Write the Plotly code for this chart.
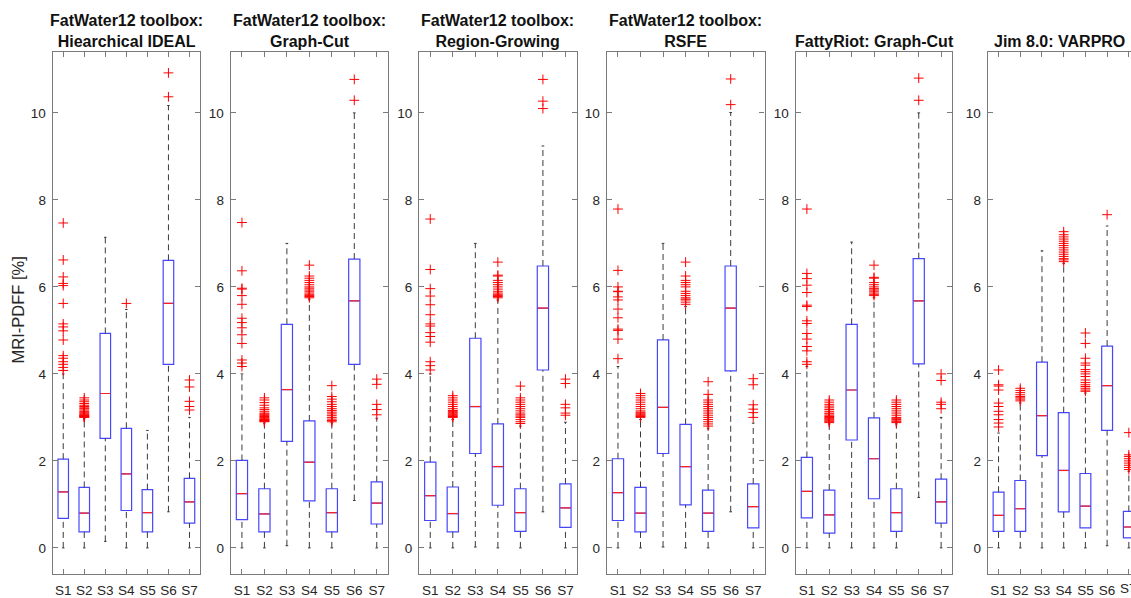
import plotly.graph_objects as go

categories = ["S1", "S2", "S3", "S4", "S5", "S6", "S7"]
panel_titles = [
    "FatWater12 toolbox:<br>Hiearchical IDEAL",
    "FatWater12 toolbox:<br>Graph-Cut",
    "FatWater12 toolbox:<br>Region-Growing",
    "FatWater12 toolbox:<br>RSFE",
    "FattyRiot: Graph-Cut",
    "Jim 8.0: VARPRO",
]
y_label = "MRI-PDFF [%]"

# ---- Panel 1: FatWater12 Hierarchical IDEAL ----
p1_q1 = [0.68, 0.37, 2.52, 0.86, 0.37, 4.22, 0.57]
p1_med = [1.29, 0.80, 3.55, 1.70, 0.81, 5.62, 1.06]
p1_q3 = [2.04, 1.39, 4.93, 2.75, 1.34, 6.61, 1.60]
p1_lo = [0, 0, 0.15, 0, 0, 0.83, 0]
p1_hi = [4.0, 2.97, 7.14, 5.48, 2.70, 10.17, 3.0]
p1_out = [
    [4.08, 4.15, 4.22, 4.28, 4.36, 4.42, 4.78, 4.99, 5.08, 5.15, 5.62, 6.03, 6.08, 6.23, 6.62, 7.47],
    [3.0, 3.01, 3.02, 3.03, 3.04, 3.05, 3.06, 3.08, 3.1, 3.12, 3.14, 3.17, 3.2, 3.22, 3.25, 3.28, 3.32, 3.36, 3.4, 3.45],
    [],
    [5.62],
    [],
    [10.37, 10.92],
    [3.17, 3.25, 3.37, 3.7, 3.86],
]

# ---- Panel 2: FatWater12 Graph-Cut ----
p2_q1 = [0.65, 0.37, 2.45, 1.08, 0.37, 4.22, 0.55]
p2_med = [1.25, 0.78, 3.64, 1.97, 0.81, 5.68, 1.03]
p2_q3 = [2.01, 1.36, 5.14, 2.92, 1.36, 6.64, 1.52]
p2_lo = [0, 0, 0.05, 0, 0, 1.09, 0]
p2_hi = [4.0, 2.87, 7.0, 5.72, 2.88, 10.0, 2.98]
p2_out = [
    [4.17, 4.25, 4.32, 4.7, 4.9, 5.06, 5.18, 5.28, 5.6, 5.8, 5.95, 5.97, 6.37, 7.48],
    [2.9, 2.91, 2.92, 2.93, 2.94, 2.95, 2.96, 2.98, 3.0, 3.02, 3.04, 3.06, 3.08, 3.1, 3.14, 3.18, 3.22, 3.28, 3.34, 3.4, 3.45],
    [],
    [5.75, 5.78, 5.8, 5.83, 5.86, 5.9, 5.93, 5.97, 6.0, 6.05, 6.1, 6.15, 6.2, 6.25, 6.5],
    [2.9, 2.93, 2.96, 3.0, 3.04, 3.08, 3.12, 3.16, 3.2, 3.25, 3.3, 3.36, 3.42, 3.48, 3.73],
    [10.29, 10.77],
    [3.06, 3.18, 3.3, 3.76, 3.88],
]

# ---- Panel 3: FatWater12 Region-Growing ----
p3_q1 = [0.63, 0.37, 2.17, 0.98, 0.38, 4.09, 0.47]
p3_med = [1.20, 0.79, 3.25, 1.87, 0.81, 5.51, 0.92]
p3_q3 = [1.97, 1.40, 4.82, 2.85, 1.36, 6.48, 1.47]
p3_lo = [0, 0, 0.02, 0, 0, 0.83, 0]
p3_hi = [4.0, 2.95, 7.0, 5.7, 2.8, 9.24, 2.89]
p3_out = [
    [4.09, 4.19, 4.28, 4.73, 4.86, 4.95, 5.1, 5.15, 5.36, 5.59, 5.79, 5.96, 6.4, 7.56],
    [3.0, 3.02, 3.04, 3.06, 3.08, 3.1, 3.12, 3.14, 3.16, 3.2, 3.25, 3.3, 3.35, 3.4, 3.45, 3.5],
    [],
    [5.75, 5.78, 5.8, 5.83, 5.86, 5.9, 5.95, 6.0, 6.05, 6.1, 6.15, 6.25, 6.27, 6.57],
    [2.86, 2.9, 2.95, 3.0, 3.03, 3.06, 3.1, 3.15, 3.2, 3.25, 3.3, 3.35, 3.4, 3.45, 3.72],
    [10.1, 10.27, 10.77],
    [3.05, 3.1, 3.22, 3.3, 3.78, 3.88],
]

# ---- Panel 4: FatWater12 RSFE ----
p4_q1 = [0.63, 0.37, 2.17, 0.99, 0.38, 4.07, 0.46]
p4_med = [1.27, 0.80, 3.23, 1.87, 0.80, 5.51, 0.95]
p4_q3 = [2.05, 1.39, 4.78, 2.84, 1.33, 6.48, 1.47]
p4_lo = [0, 0, 0.02, 0, 0, 0.83, 0]
p4_hi = [4.17, 2.95, 7.0, 5.55, 2.75, 10.01, 2.87]
p4_out = [
    [4.35, 4.8, 5.0, 5.03, 5.29, 5.49, 5.7, 5.77, 5.89, 5.9, 6.0, 6.38, 7.79],
    [3.0, 3.02, 3.04, 3.06, 3.08, 3.1, 3.12, 3.15, 3.2, 3.25, 3.3, 3.35, 3.4, 3.45, 3.5, 3.55],
    [],
    [5.6, 5.65, 5.7, 5.72, 5.75, 5.8, 5.85, 5.9, 6.0, 6.05, 6.1, 6.15, 6.25, 6.57],
    [2.8, 2.85, 2.9, 2.95, 3.0, 3.05, 3.1, 3.15, 3.2, 3.25, 3.3, 3.35, 3.4, 3.53, 3.82],
    [10.19, 10.78],
    [3.0, 3.11, 3.19, 3.29, 3.75, 3.89],
]

# ---- Panel 5: FattyRiot Graph-Cut ----
p5_q1 = [0.69, 0.34, 2.48, 1.13, 0.38, 4.23, 0.57]
p5_med = [1.30, 0.76, 3.63, 2.05, 0.81, 5.68, 1.06]
p5_q3 = [2.08, 1.33, 5.14, 2.99, 1.36, 6.65, 1.58]
p5_lo = [0, 0, 0, 0, 0, 1.16, 0]
p5_hi = [4.17, 2.85, 7.03, 5.75, 2.85, 10.0, 3.0]
p5_out = [
    [4.22, 4.28, 4.53, 4.63, 4.8, 4.93, 5.16, 5.22, 5.55, 5.58, 5.87, 6.04, 6.19, 6.31, 7.79],
    [2.88, 2.9, 2.92, 2.94, 2.96, 2.98, 3.0, 3.02, 3.05, 3.08, 3.1, 3.14, 3.18, 3.22, 3.26, 3.3, 3.35, 3.4],
    [],
    [5.8, 5.83, 5.86, 5.9, 5.93, 5.96, 6.0, 6.05, 6.1, 6.2, 6.22, 6.5],
    [2.88, 2.9, 2.92, 2.95, 2.98, 3.0, 3.05, 3.1, 3.15, 3.2, 3.25, 3.3, 3.35, 3.4],
    [10.29, 10.8],
    [3.2, 3.3, 3.35, 3.85, 4.0],
]

# ---- Panel 6: Jim 8.0 VARPRO ----
p6_q1 = [0.38, 0.38, 2.12, 0.83, 0.46, 2.70, 0.23]
p6_med = [0.75, 0.90, 3.04, 1.78, 0.96, 3.73, 0.48]
p6_q3 = [1.28, 1.55, 4.27, 3.11, 1.71, 4.64, 0.84]
p6_lo = [0, 0, 0, 0, 0, 0.05, 0]
p6_hi = [2.64, 3.33, 6.83, 6.54, 3.56, 7.40, 1.76]
p6_out = [
    [2.78, 2.87, 2.95, 3.06, 3.14, 3.25, 3.33, 3.63, 3.72, 3.75, 4.09],
    [3.38, 3.42, 3.45, 3.48, 3.52, 3.57, 3.62, 3.67],
    [],
    [6.58, 6.62, 6.65, 6.7, 6.75, 6.8, 6.85, 6.9, 6.95, 7.0, 7.05, 7.1, 7.15, 7.2, 7.27],
    [3.6, 3.63, 3.67, 3.71, 3.75, 3.8, 3.86, 3.94, 4.0, 4.05, 4.1, 4.2, 4.25, 4.36, 4.7, 4.94],
    [7.66],
    [1.8, 1.85, 1.9, 1.95, 2.0, 2.05, 2.1, 2.14, 2.65],
]

panels = [
    (p1_q1, p1_med, p1_q3, p1_lo, p1_hi, p1_out),
    (p2_q1, p2_med, p2_q3, p2_lo, p2_hi, p2_out),
    (p3_q1, p3_med, p3_q3, p3_lo, p3_hi, p3_out),
    (p4_q1, p4_med, p4_q3, p4_lo, p4_hi, p4_out),
    (p5_q1, p5_med, p5_q3, p5_lo, p5_hi, p5_out),
    (p6_q1, p6_med, p6_q3, p6_lo, p6_hi, p6_out),
]

# ---- layout geometry (page pixels) ----
W, H = 1131, 598
panel_px = [(52.7, 200.0), (230.7, 388.0), (419.0, 576.7), (606.7, 764.5), (795.7, 952.3), (987.7, 1131.0)]
x_ranges = [[0.5, 7.5]] * 5 + [[0.5, 7.1]]
plot_top, plot_bottom = 52.3, 574.3

FONT = "Liberation Sans, Arial, Helvetica, sans-serif"
TXT = "#262626"
AX = "#7a7a7a"
BOX_W = 0.5
CAP_W = 0.12

xs = list(range(1, len(categories) + 1))
fig = go.Figure()

for k, (q1, med, q3, lo, hi, outs) in enumerate(panels):
    n = k + 1
    xa = "x" if n == 1 else f"x{n}"
    ya = "y" if n == 1 else f"y{n}"

    # whiskers (dashed)
    wx, wy = [], []
    for i, x in enumerate(xs):
        wx += [x, x, None, x, x, None]
        wy += [q3[i], hi[i], None, lo[i], q1[i], None]
    fig.add_trace(go.Scatter(x=wx, y=wy, xaxis=xa, yaxis=ya, mode="lines",
                             line=dict(color="#3a3a3a", width=1, dash="6px,4px"),
                             hoverinfo="skip", showlegend=False))
    # whisker caps
    cx, cy = [], []
    for i, x in enumerate(xs):
        cx += [x - CAP_W / 2, x + CAP_W / 2, None, x - CAP_W / 2, x + CAP_W / 2, None]
        cy += [hi[i], hi[i], None, lo[i], lo[i], None]
    fig.add_trace(go.Scatter(x=cx, y=cy, xaxis=xa, yaxis=ya, mode="lines",
                             line=dict(color="#3a3a3a", width=1),
                             hoverinfo="skip", showlegend=False))
    # boxes
    fig.add_trace(go.Box(x=xs, q1=q1, median=med, q3=q3, lowerfence=q1, upperfence=q3,
                         xaxis=xa, yaxis=ya, width=BOX_W, boxpoints=False,
                         line=dict(color="rgb(70,70,255)", width=1.2),
                         fillcolor="rgba(255,255,255,0)", whiskerwidth=0,
                         showlegend=False, hoverinfo="skip"))
    # medians
    mx, my = [], []
    for i, x in enumerate(xs):
        mx += [x - BOX_W / 2 + 0.03, x + BOX_W / 2 - 0.03, None]
        my += [med[i], med[i], None]
    fig.add_trace(go.Scatter(x=mx, y=my, xaxis=xa, yaxis=ya, mode="lines",
                             line=dict(color="#ff2020", width=1.2),
                             hoverinfo="skip", showlegend=False))
    # outliers
    ox, oy = [], []
    for i, x in enumerate(xs):
        ox += [x] * len(outs[i])
        oy += outs[i]
    fig.add_trace(go.Scatter(x=ox, y=oy, xaxis=xa, yaxis=ya, mode="markers",
                             marker=dict(symbol="cross-thin", size=7,
                                         line=dict(color="#ff0000", width=1), color="#ff0000"),
                             hoverinfo="skip", showlegend=False))

layout = dict(
    width=W, height=H,
    margin=dict(l=0, r=0, t=plot_top, b=H - plot_bottom),
    paper_bgcolor="white", plot_bgcolor="white",
    font=dict(family=FONT, color=TXT, size=13.5),
    showlegend=False,
    annotations=[],
)

for k in range(6):
    n = k + 1
    xkey = "xaxis" if n == 1 else f"xaxis{n}"
    ykey = "yaxis" if n == 1 else f"yaxis{n}"
    x0, x1 = panel_px[k]
    d0, d1 = x0 / W, min(1.0, x1 / W)
    layout[xkey] = dict(
        domain=[d0, d1], range=x_ranges[k], anchor="y" if n == 1 else f"y{n}",
        tickmode="array", tickvals=xs, ticktext=categories,
        ticks="inside", ticklen=5, tickcolor=AX, tickwidth=1,
        showline=True, linecolor=AX, linewidth=1.2, mirror="ticks",
        showgrid=False, zeroline=False, fixedrange=True,
        tickfont=dict(family=FONT, size=13.5, color=TXT),
        ticklabelstandoff=4,
    )
    layout[ykey] = dict(
        domain=[0, 1], range=[-0.6, 11.4], anchor="x" if n == 1 else f"x{n}",
        tickmode="array", tickvals=[0, 2, 4, 6, 8, 10],
        ticks="inside", ticklen=5, tickcolor=AX, tickwidth=1,
        showline=True, linecolor=AX, linewidth=1.2,
        mirror="ticks" if n < 6 else False,
        showgrid=False, zeroline=False, fixedrange=True,
        tickfont=dict(family=FONT, size=13.5, color=TXT),
        ticklabelstandoff=3,
    )
    layout["annotations"].append(dict(
        text="<b>" + panel_titles[k] + "</b>", xref="paper", yref="paper",
        x=(d0 + d1) / 2, y=1, xanchor="center", yanchor="bottom", yshift=0,
        showarrow=False, align="center",
        font=dict(family=FONT, size=16, color="#111111"),
    ))

# last category label of the cut-off right panel (hidden by plotly's tick culling)
layout["annotations"].append(dict(
    text=categories[-1], xref="x6", yref="paper", x=xs[-1], y=0,
    xanchor="center", yanchor="top", yshift=-5, showarrow=False,
    font=dict(family=FONT, size=13.5, color=TXT),
))

layout["annotations"].append(dict(
    text=y_label, xref="paper", yref="paper", x=18 / W, y=0.505,
    xanchor="center", yanchor="middle", textangle=-90, showarrow=False,
    font=dict(family=FONT, size=16.5, color=TXT),
))

fig.update_layout(**layout)
fig.write_html(
    "out.html",
    config={"displayModeBar": False},
    post_script="document.documentElement.style.overflow='hidden';"
                "document.body.style.margin='0';document.body.style.overflow='hidden';",
)
